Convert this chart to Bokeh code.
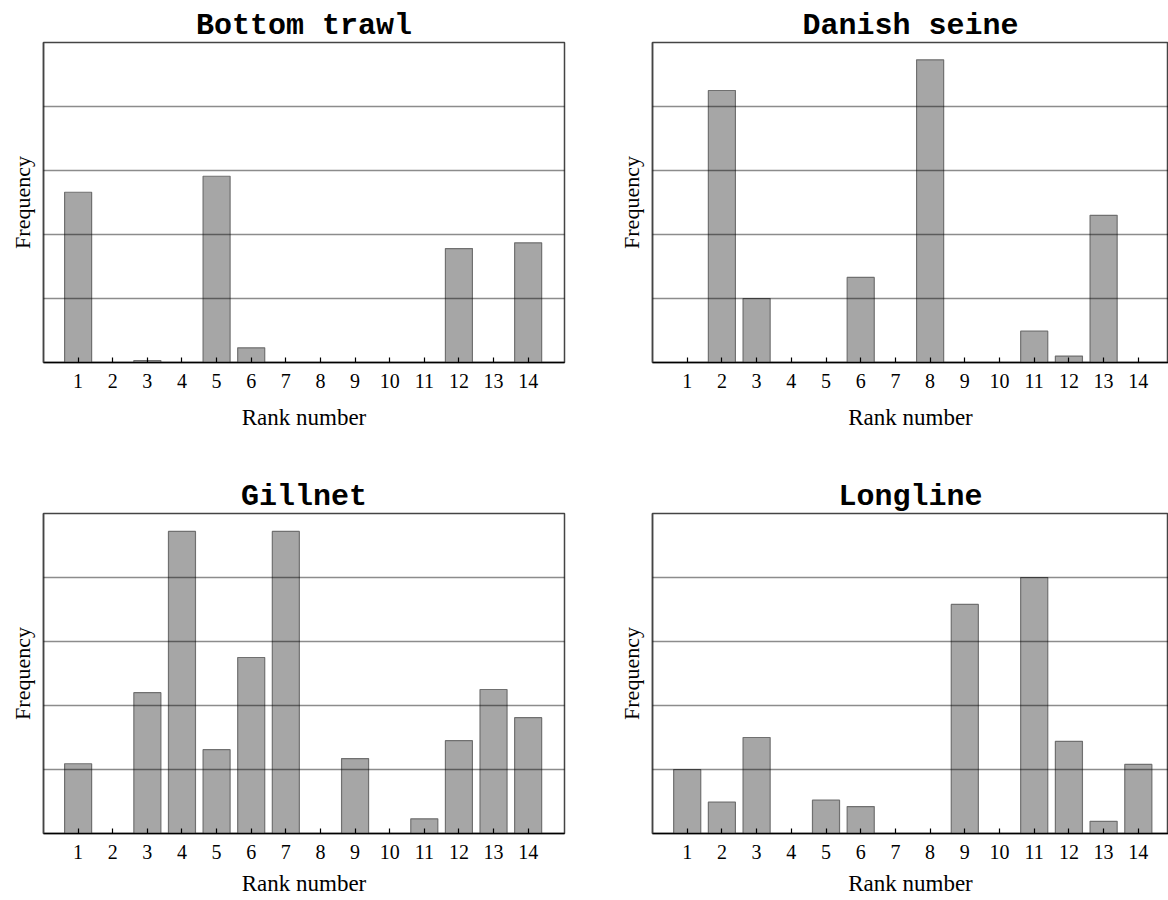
from bokeh.plotting import figure
from bokeh.layouts import row, column
from bokeh.models import Range1d, FixedTicker
from bokeh.embed import file_html
from bokeh.resources import INLINE

ranks = list(range(1, 15))
bottom_trawl = [2.66, 0, 0.03, 0, 2.91, 0.23, 0, 0, 0, 0, 0, 1.78, 0, 1.87]
danish_seine = [0, 4.25, 1.0, 0, 0, 1.33, 0, 4.73, 0, 0, 0.49, 0.1, 2.3, 0]
gillnet = [1.09, 0, 2.2, 4.72, 1.31, 2.75, 4.72, 0, 1.17, 0, 0.23, 1.45, 2.25, 1.81]
longline = [1.0, 0.49, 1.5, 0, 0.52, 0.42, 0, 0, 3.58, 0, 4.0, 1.44, 0.19, 1.08]
titles = ["Bottom trawl", "Danish seine", "Gillnet", "Longline"]
grid_levels = [1, 2, 3, 4]

SERIF = "Liberation Serif"
MONO = "Liberation Mono"


def make(title, values, left, top_row):
    width = 590 if left else 578
    height = 471 if top_row else 429
    x_end = 15.05 if left else 14.87
    p = figure(width=width, height=height, output_backend="svg", toolbar_location=None,
               x_range=Range1d(0, x_end), y_range=Range1d(0, 5),
               min_border_left=43 if left else 62,
               min_border_right=26 if left else 0,
               min_border_top=42,
               min_border_bottom=109 if top_row else 67,
               background_fill_color="white", border_fill_color="white")
    p.title.text = title
    p.title.text_font = MONO
    p.title.text_font_style = "bold"
    p.title.text_font_size = "30px"
    p.title.align = "center"
    p.title.standoff = 0
    p.title.text_color = "black"

    xs = [r for r, v in zip(ranks, values) if v > 0]
    ys = [v for v in values if v > 0]
    p.vbar(x=xs, top=ys, bottom=0, width=0.78, fill_color="#a6a6a6",
           line_color="#707070", line_width=1.2)

    p.outline_line_color = "#444444"
    p.outline_line_width = 1.5

    p.xgrid.visible = False
    p.ygrid.ticker = FixedTicker(ticks=grid_levels)
    p.ygrid.grid_line_color = "black"
    p.ygrid.grid_line_alpha = 0.45
    p.ygrid.grid_line_width = 1.3
    p.ygrid.level = "annotation"

    xa = p.xaxis[0]
    xa.ticker = FixedTicker(ticks=ranks)
    xa.minor_tick_line_color = None
    xa.major_tick_in = 5
    xa.major_tick_out = 0
    xa.major_tick_line_color = "black"
    xa.major_tick_line_width = 1.2
    xa.axis_line_color = "black"
    xa.axis_line_width = 1.5
    xa.major_label_text_font = SERIF
    xa.major_label_text_font_size = "20px"
    xa.major_label_text_color = "black"
    xa.major_label_standoff = 11
    xa.axis_label = "Rank number"
    xa.axis_label_text_font = SERIF
    xa.axis_label_text_font_size = "23px"
    xa.axis_label_text_font_style = "normal"
    xa.axis_label_text_color = "black"
    xa.axis_label_standoff = 14 if top_row else 9

    ya = p.yaxis[0]
    ya.ticker = FixedTicker(ticks=[])
    ya.minor_tick_line_color = None
    ya.major_tick_line_color = None
    ya.major_label_standoff = 0
    ya.axis_line_color = "#444444"
    ya.axis_line_width = 1.5
    ya.axis_label = "Frequency"
    ya.axis_label_text_font = SERIF
    ya.axis_label_text_font_size = "22px"
    ya.axis_label_text_font_style = "normal"
    ya.axis_label_text_color = "black"
    ya.axis_label_standoff = 9
    return p


p1 = make(titles[0], bottom_trawl, True, True)
p2 = make(titles[1], danish_seine, False, True)
p3 = make(titles[2], gillnet, True, False)
p4 = make(titles[3], longline, False, False)

layout = column(row(p1, p2), row(p3, p4))
open("out.html", "w").write(file_html(layout, INLINE))
